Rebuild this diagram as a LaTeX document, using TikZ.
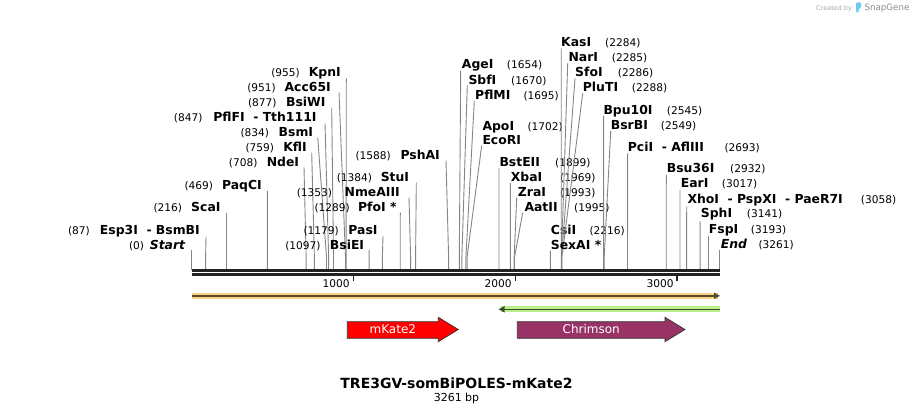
\documentclass[tikz,border=0pt]{standalone}
\usepackage{fontspec}
\setmainfont{DejaVu Sans}
\usetikzlibrary{arrows.meta}
\definecolor{cutline}{HTML}{858585}
\definecolor{strand}{HTML}{222222}
\definecolor{bandorange}{HTML}{FCD27F}
\definecolor{lineorange}{HTML}{584834}
\definecolor{bandgreen}{HTML}{BAF08C}
\definecolor{linegreen}{HTML}{3C4B2D}
\definecolor{mkate}{HTML}{FF0000}
\definecolor{chrimson}{HTML}{993366}
\definecolor{logoblue}{HTML}{6CCBF2}

\begin{document}
\begin{tikzpicture}[x=1pt, y=-1pt,
    site/.style={font=\fontsize{12.4}{14}\selectfont\bfseries, inner sep=0pt},
    coord/.style={font=\fontsize{10.6}{12}\selectfont, inner sep=0pt},
    cut/.style={draw=cutline, line width=0.9pt},
    feat/.style={draw=black!80, line width=0.7pt},
    ftext/.style={font=\fontsize{12}{14}\selectfont, text=white, inner sep=0pt}]
  \useasboundingbox (0,0) rectangle (913,414);

  % sites with the name on the left of the cut
  \foreach \i/\cy/\xa/\xn/\lx/\ly/\bp/\nm/\num in {
      1/245/185.7/144.3/191.5/250/0/\textit{Start}/0,
      2/230/200/90/206/236.7/87/Esp3I~~-~BsmBI/87,
      3/206.7/220.7/182.3/226.5/213/216/ScaI/216,
      4/185/262/213.3/267.4/191/469/PaqCI/469,
      5/161.7/299.3/257.7/304/167.3/708/NdeI/708,
      6/146.7/307/274.3/311.7/152.7/759/KflI/759,
      7/131.7/313.3/269.3/317.7/137.3/834/BsmI/834,
      8/116.7/316.7/202.7/325/123.3/847/PflFI~~-~Tth111I/847,
      9/101.7/325.7/276.7/331.7/107.7/877/BsiWI/877,
      10/86.7/331/276/339/92.3/951/Acc65I/951,
      11/71.7/341/300/346.3/78.3/955/KpnI/955,
      12/245/364.3/320.7/369.1/250/1097/BsiEI/1097,
      13/230/377.7/339/383/236/1179/PasI/1179,
      14/206.7/396.7/350/400.3/212.7/1289/PfoI~*/1289,
      15/191.7/400/332.3/409/197.3/1353/NmeAIII/1353,
      16/176.7/409.3/372.3/416.3/182.7/1384/StuI/1384,
      17/155/440/391/446/160.7/1588/PshAI/1588} {
    \node[site, anchor=base east] (s\i) at (\xa,{\cy+4.5}) {\nm};
    \node[coord, anchor=base east] (n\i) at (\xn,{\cy+4.5}) {(\num)};
    \coordinate (t\i) at (\lx,\ly);
    \coordinate (k\i) at ({191.5+\bp*0.161913},257);
    \coordinate (b\i) at ({191.5+\bp*0.161913},269.5);
    \draw[cut] (t\i) -- (k\i) -- (b\i);
  }

  % sites with the name on the right of the cut
  \foreach \i/\cy/\xa/\xn/\lx/\ly/\bp/\nm/\num in {
      1/64.3/461.7/506.7/460.7/70.7/1654/AgeI/1654,
      2/80/468.3/511/467.3/85/1670/SbfI/1670,
      3/95/475/523.3/474.3/101/1695/PflMI/1695,
      4/125.7/482.3/527.3/481.7/145.5/1702/ApoI/1702,
      5/161.7/499.3/555/499/168/1899/BstEII/1899,
      6/176.7/510.7/560/510.3/183/1969/XbaI/1969,
      7/191.7/517.7/560/516.7/197.7/1993/ZraI/1993,
      8/206.7/524.3/574/522.7/212.7/1995/AatII/1995,
      9/230/550.7/589.3/550.3/250.7/2216/CsiI/2216,
      10/42.3/561/605/561.2/48.3/2284/KasI/2284,
      11/57.3/568.3/611.7/567.7/63.3/2285/NarI/2285,
      12/72.3/575/617.7/575/78.3/2286/SfoI/2286,
      13/87.3/582.7/631.7/582.7/93.3/2288/PluTI/2288,
      14/110/603.3/666.7/603.6/116/2545/Bpu10I/2545,
      15/125/610.7/660.7/610.7/131/2549/BsrBI/2549,
      16/146.7/627.7/724.3/627.6/153.3/2693/PciI~~-~AflIII/2693,
      17/168.3/666.7/730/666.3/175/2932/Bsu36I/2932,
      18/183.3/680.7/721.7/680/190/3017/EarI/3017,
      19/199/687.3/860.7/686.7/206.7/3058/XhoI~~-~PspXI~~-~PaeR7I/3058,
      20/213.3/700.7/746.7/700.1/221.7/3141/SphI/3141,
      21/229.3/708.7/750.7/708.5/236/3193/FspI/3193,
      22/244.3/720.7/758.3/719.5/250/3261/\textit{End}/3261} {
    \node[site, anchor=base west] (r\i) at (\xa,{\cy+4.5}) {\nm};
    \node[coord, anchor=base west] (q\i) at (\xn,{\cy+4.5}) {(\num)};
    \coordinate (u\i) at (\lx,\ly);
    \coordinate (j\i) at ({191.5+\bp*0.161913},257);
    \coordinate (c\i) at ({191.5+\bp*0.161913},269.5);
    \draw[cut] (u\i) -- (j\i) -- (c\i);
  }
  \node[site, anchor=base west] (r4b) at (482.3,144.5) {EcoRI};
  \node[site, anchor=base west] (r9b) at (550.7,249.5) {SexAI~*};

  % the sequence
  \coordinate (top0) at (192,270.5);
  \coordinate (top1) at (720,270.5);
  \coordinate (bot0) at (192,274.5);
  \coordinate (bot1) at (720,274.5);
  \draw[strand, line width=2.4pt] (top0) -- (top1);
  \draw[strand, line width=2.4pt] (bot0) -- (bot1);
  \foreach \k in {1000,2000,3000} {
    \coordinate (m\k) at ({191.5+\k*0.161913},275.5);
    \draw[strand, line width=1.6pt] (m\k) -- ++(0,5);
    \node[coord, anchor=base east] (l\k) at ({188+\k*0.161913},287.5) {\k};
  }

  % features
  \coordinate (o0) at (192,295.8);
  \coordinate (o1) at (720,295.8);
  \draw[bandorange, line width=6pt] (o0) -- ([xshift=-2pt]o1);
  \draw[lineorange, line width=1.6pt, -{Triangle[length=6pt,width=6pt]}] (o0) -- (o1);
  \coordinate (g0) at (720,309.3);
  \coordinate (g1) at (498.5,309.3);
  \draw[bandgreen, line width=6pt] (g0) -- ([xshift=2pt]g1);
  \draw[linegreen, line width=1.6pt, -{Triangle[length=6pt,width=6pt]}] (g0) -- (g1);

  \filldraw[feat, fill=mkate] (347.3,321.7) -- (438.3,321.7) -- (438.3,317.3) -- (458.3,329.5)
    -- (438.3,341.7) -- (438.3,338.3) -- (347.3,338.3) -- cycle;
  \node[ftext, anchor=base] (mk) at (392.8,333.7) {mKate2};
  \filldraw[feat, fill=chrimson] (517.3,321.7) -- (665,321.7) -- (665,317.3) -- (685,329.5)
    -- (665,341.7) -- (665,338.3) -- (517.3,338.3) -- cycle;
  \node[ftext, anchor=base] (ch) at (591.2,333.7) {Chrimson};

  % title
  \node[font=\fontsize{14}{16}\selectfont\bfseries, anchor=base, inner sep=0pt] (title) at (456.5,388) {TRE3GV-somBiPOLES-mKate2};
  \node[font=\fontsize{11}{13}\selectfont, anchor=base, inner sep=0pt] (len) at (456.5,401.5) {3261 bp};

  % watermark
  \node[font=\fontsize{6.5}{8}\selectfont, text=black!35, anchor=base west, inner sep=0pt] (made) at (816,10.5) {Created by};
  \fill[logoblue, rounded corners=1pt] (856,2.5) -- (861,2.5) -- (861,8) -- (858.5,9) -- (858.5,13) -- (856,12) -- cycle;
  \node[font=\fontsize{8.7}{10}\selectfont, text=black!45, anchor=base west, inner sep=0pt] (snap) at (864.3,11) {SnapGene};
\end{tikzpicture}
\end{document}
